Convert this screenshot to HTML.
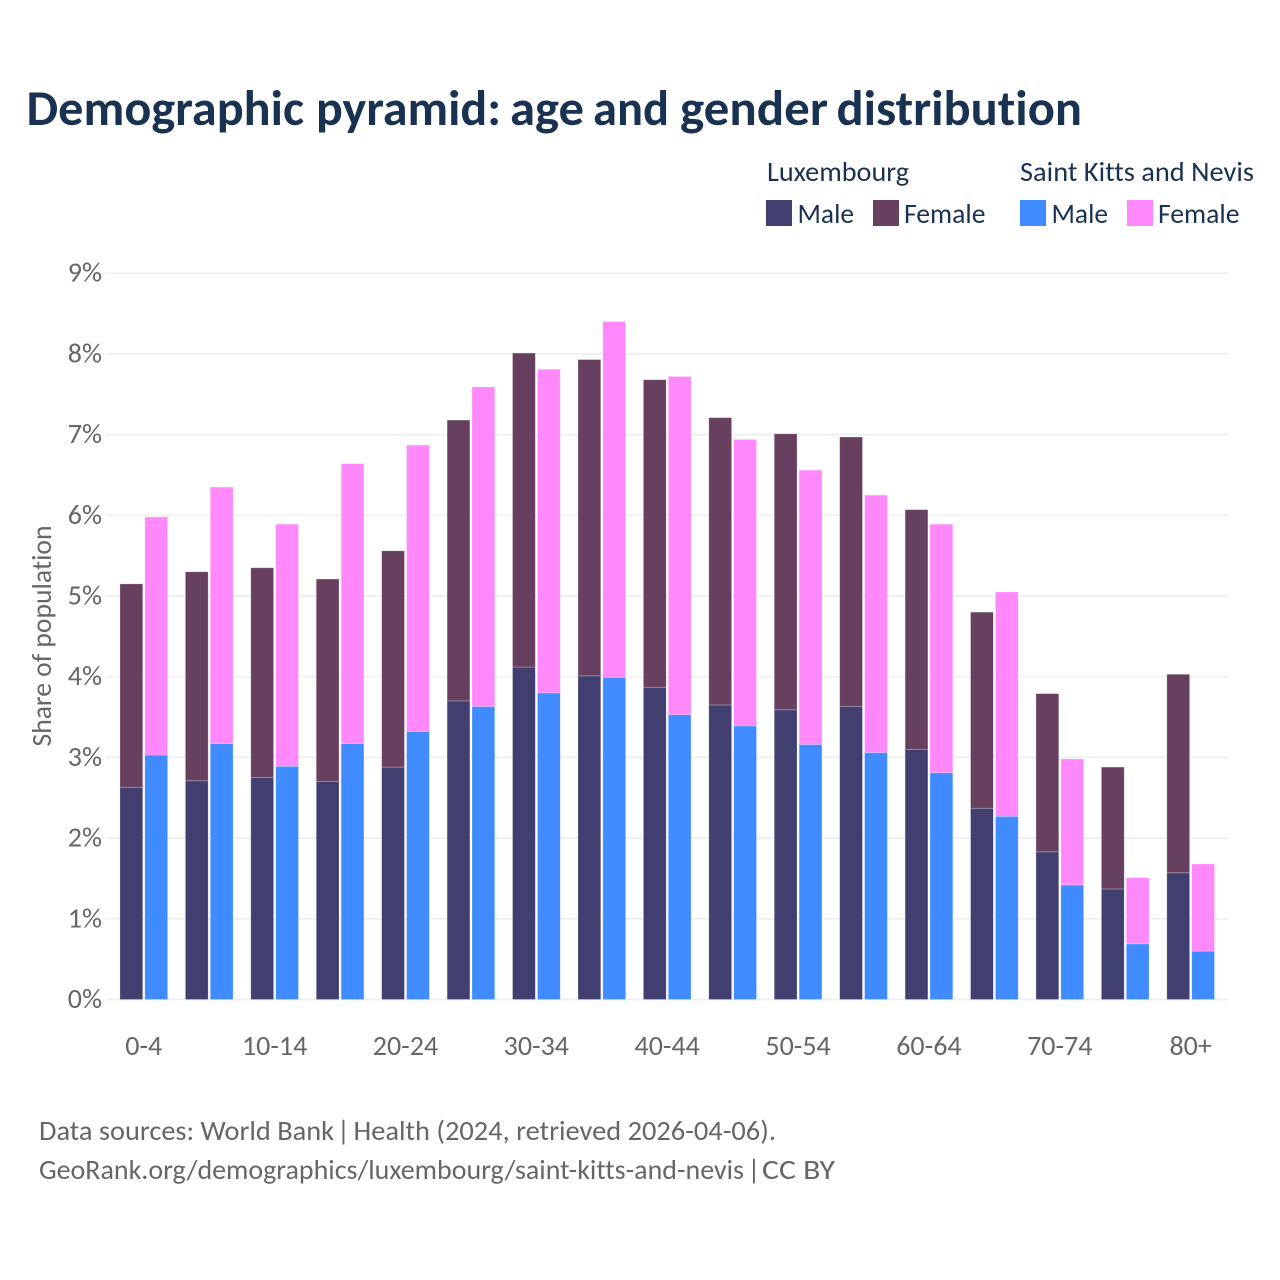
<!DOCTYPE html>
<html lang="en">
<head>
<meta charset="utf-8">
<title>Demographic pyramid</title>
<style>
html,body{margin:0;padding:0;background:#fff;}
svg{display:block;font-family:"Carlito","Lato","Liberation Sans",sans-serif;font-variant-ligatures:none;}
</style>
</head>
<body>
<svg id="chart" width="1280" height="1280" viewBox="0 0 1280 1280" xmlns="http://www.w3.org/2000/svg">
  <rect x="0" y="0" width="1280" height="1280" fill="#ffffff"/>
  <text y="125" font-size="50" font-weight="700" fill="#1a3252"><tspan x="26.5" textLength="277.5" lengthAdjust="spacingAndGlyphs">Demographic</tspan> <tspan x="316" textLength="185" lengthAdjust="spacingAndGlyphs">pyramid:</tspan> <tspan x="510" textLength="74" lengthAdjust="spacingAndGlyphs">age</tspan> <tspan x="593" textLength="76" lengthAdjust="spacingAndGlyphs">and</tspan> <tspan x="680" textLength="148" lengthAdjust="spacingAndGlyphs">gender</tspan> <tspan x="836.5" textLength="245.5" lengthAdjust="spacingAndGlyphs">distribution</tspan></text>

  <g fill="#1a3252" font-size="28">
    <text x="767" y="181" textLength="142" lengthAdjust="spacingAndGlyphs">Luxembourg</text>
    <text x="1020" y="181" textLength="234" lengthAdjust="spacingAndGlyphs">Saint Kitts and Nevis</text>
    <rect x="766" y="200" width="26" height="26" fill="#413f6f"/>
    <text x="797.5" y="223" textLength="56.5" lengthAdjust="spacingAndGlyphs">Male</text>
    <rect x="873" y="200" width="26" height="26" fill="#67405f"/>
    <text x="904" y="223" textLength="81.5" lengthAdjust="spacingAndGlyphs">Female</text>
    <rect x="1020" y="200" width="26" height="26" fill="#3f8bff"/>
    <text x="1051.5" y="223" textLength="56.5" lengthAdjust="spacingAndGlyphs">Male</text>
    <rect x="1127" y="200" width="26" height="26" fill="#ff88fa"/>
    <text x="1158" y="223" textLength="81.5" lengthAdjust="spacingAndGlyphs">Female</text>
  </g>

  <g id="grid"></g>
  <g id="yticks" fill="#666666" font-size="28" text-anchor="end"></g>
  <g id="bars"></g>
  <g id="xticks" fill="#666666" font-size="28" text-anchor="middle"></g>

  <text transform="translate(51,636) rotate(-90)" text-anchor="middle" fill="#666666" font-size="28" textLength="221" lengthAdjust="spacingAndGlyphs">Share of population</text>

  <text y="1140" fill="#666666" font-size="28"><tspan x="39" textLength="295" lengthAdjust="spacingAndGlyphs">Data sources: World Bank</tspan> <tspan x="337">|</tspan> <tspan x="353.5" textLength="422.5" lengthAdjust="spacingAndGlyphs">Health (2024, retrieved 2026-04-06).</tspan></text>
  <text y="1179" fill="#666666" font-size="28"><tspan x="39" textLength="705" lengthAdjust="spacingAndGlyphs">GeoRank.org/demographics/luxembourg/saint-kitts-and-nevis</tspan> <tspan x="747.5">|</tspan> <tspan x="762" textLength="73" lengthAdjust="spacingAndGlyphs">CC BY</tspan></text>
</svg>
<script>
const categories = ["0-4","5-9","10-14","15-19","20-24","25-29","30-34","35-39","40-44","45-49","50-54","55-59","60-64","65-69","70-74","75-79","80+"];
const luxembourgMale = [2.63,2.71,2.75,2.70,2.88,3.70,4.12,4.01,3.87,3.65,3.59,3.63,3.10,2.37,1.83,1.37,1.57];
const luxembourgFemale = [2.52,2.59,2.60,2.51,2.68,3.48,3.89,3.92,3.81,3.56,3.42,3.34,2.97,2.43,1.96,1.51,2.46];
const saintKittsMale = [3.03,3.17,2.89,3.17,3.32,3.63,3.80,3.99,3.53,3.39,3.16,3.06,2.81,2.27,1.42,0.69,0.60];
const saintKittsFemale = [2.95,3.18,3.00,3.47,3.55,3.96,4.01,4.41,4.19,3.55,3.40,3.19,3.08,2.78,1.56,0.82,1.08];
const yTickValues = [0,1,2,3,4,5,6,7,8,9];

const SVG_NS = "http://www.w3.org/2000/svg";
const BASELINE = 999.5, UNIT = 80.7, FIRST_CENTER = 143.75, STEP = 65.43, BAR_W = 22.8;

function yScale(v) { return BASELINE - v * UNIT; }
function xCenter(i) { return FIRST_CENTER + i * STEP; }

function make(tag, attrs, parent) {
  const el = document.createElementNS(SVG_NS, tag);
  for (const k in attrs) el.setAttribute(k, attrs[k]);
  parent.appendChild(el);
  return el;
}

const gridG = document.getElementById("grid");
const yG = document.getElementById("yticks");
const barsG = document.getElementById("bars");
const xG = document.getElementById("xticks");

yTickValues.forEach(function (t) {
  const line = make("line", {x1: 106, x2: 1228, y1: yScale(t), y2: yScale(t), stroke: "#eeeeee", "stroke-width": 1.7}, gridG);
  
  
  const label = make("text", {x: 102, y: yScale(t) + 8.5}, yG);
  
  
  label.textContent = t + "%";
});

function drawBar(x, bottom, top, fill) {
  const y0 = yScale(bottom), y1 = yScale(top);
  const bar = make("rect", {x: x, y: y1, width: BAR_W, height: y0 - y1, fill: fill, stroke: "#ffffff", "stroke-opacity": 0.35, "stroke-width": 0.7}, barsG);
  
  
}

categories.forEach(function (cat, i) {
  const c = xCenter(i);
  const xL = c - 23.8, xS = c + 1.1;
  drawBar(xL, 0, luxembourgMale[i], "#413f6f");
  drawBar(xL, luxembourgMale[i], luxembourgMale[i] + luxembourgFemale[i], "#67405f");
  drawBar(xS, 0, saintKittsMale[i], "#3f8bff");
  drawBar(xS, saintKittsMale[i], saintKittsMale[i] + saintKittsFemale[i], "#ff88fa");
  if (i % 2 === 0) {
    const label = make("text", {x: c, y: 1055}, xG);
    
    
    label.textContent = cat;
  }
});
</script>
</body>
</html>
